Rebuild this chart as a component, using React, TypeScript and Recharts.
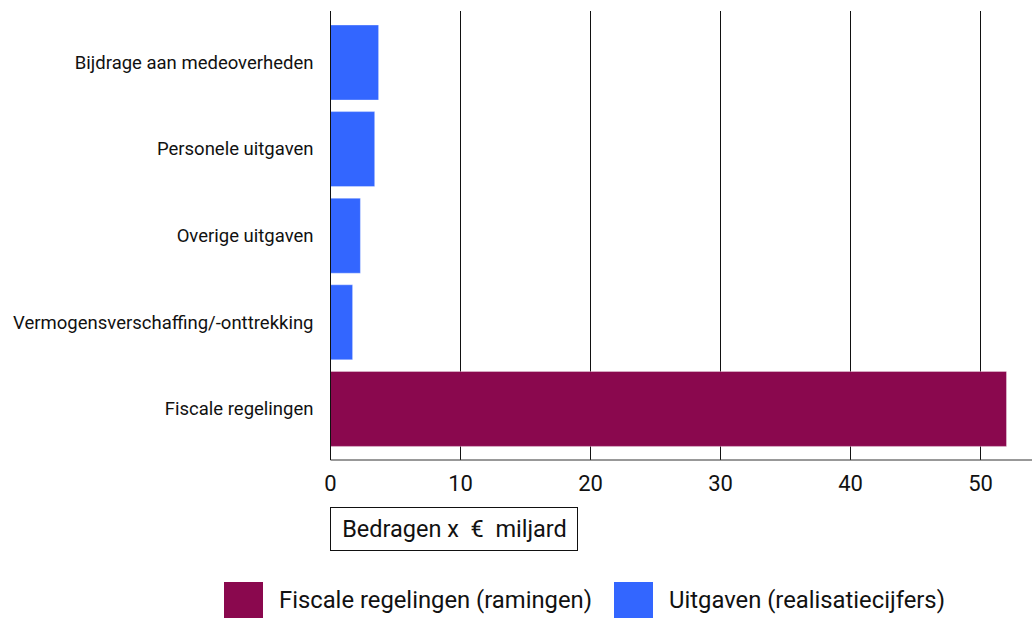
import React from "react";
import { BarChart, Bar, XAxis, YAxis, CartesianGrid, Legend } from "recharts";

const categories = [
  "Bijdrage aan medeoverheden",
  "Personele uitgaven",
  "Overige uitgaven",
  "Vermogensverschaffing/-onttrekking",
  "Fiscale regelingen",
];
const fiscaleValues: (number | null)[] = [null, null, null, null, 52.0];
const uitgavenValues: (number | null)[] = [3.7, 3.4, 2.3, 1.7, null];
const xTicks = [0, 10, 20, 30, 40, 50];
const seriesNames = ["Fiscale regelingen (ramingen)", "Uitgaven (realisatiecijfers)"];
const axisTitle = "Bedragen x \u00a0€\u00a0 miljard";

const PURPLE = "#8A084E";
const BLUE = "#3366FF";
const FONT = "Roboto, 'Noto Sans', sans-serif";

const data = categories.map((c, i) => ({
  name: c,
  fiscale: fiscaleValues[i],
  uitgaven: uitgavenValues[i],
}));

const AxisTitle = (props: any) => {
  const vb = props.viewBox || {};
  const x = vb.x;
  const y = vb.y + 47;
  return (
    <g>
      <rect x={x} y={y + 0.5} width={247} height={43} fill="#fff" stroke="#111" strokeWidth={1} />
      <text x={x + 124} y={y + 30} textAnchor="middle" fontSize={23.5} fill="#111" fontFamily={FONT}>
        {axisTitle}
      </text>
    </g>
  );
};

const LegendContent = () => {
  const items = [
    { label: seriesNames[0], color: PURPLE },
    { label: seriesNames[1], color: BLUE },
  ];
  return (
    <div style={{ display: "flex", alignItems: "center", paddingLeft: 224, fontFamily: FONT }}>
      {items.map((it, i) => (
        <div key={i} style={{ display: "flex", alignItems: "center", marginRight: 22 }}>
          <div style={{ width: 39, height: 36, background: it.color, marginRight: 16 }} />
          <span style={{ fontSize: 23.8, color: "#111", whiteSpace: "nowrap" }}>{it.label}</span>
        </div>
      ))}
    </div>
  );
};

export default function App() {
  return (
    <div style={{ position: "absolute", left: 0, top: 0, width: 1032, height: 618, background: "#fff" }}>
      <BarChart
        width={1032}
        height={618}
        data={data}
        layout="vertical"
        margin={{ top: 11, right: -0.5, bottom: 0, left: 0.5 }}
        barCategoryGap={6}
      >
        <CartesianGrid vertical={true} horizontal={false} stroke="#111" strokeWidth={1} />
        <XAxis
          type="number"
          domain={[0, 54]}
          ticks={xTicks}
          allowDataOverflow
          height={158}
          tickLine={false}
          axisLine={{ stroke: "#333" }}
          tick={{ fontSize: 22, fill: "#111", fontFamily: FONT }}
          tickMargin={9}
          label={<AxisTitle />}
        />
        <YAxis
          type="category"
          dataKey="name"
          width={330}
          tickLine={false}
          axisLine={{ stroke: "#111" }}
          tick={{ fontSize: 18.5, fill: "#111", fontFamily: FONT }}
          tickMargin={11}
          padding={{ top: 8, bottom: 8 }}
        />
        <Legend
          layout="horizontal"
          verticalAlign="middle"
          align="center"
          wrapperStyle={{ top: 582, left: 0, width: 1032, height: 36 }}
          content={<LegendContent />}
        />
        <Bar dataKey="fiscale" name={seriesNames[0]} stackId="a" fill={PURPLE} stroke="rgba(255,255,255,0.35)" isAnimationActive={false} />
        <Bar dataKey="uitgaven" name={seriesNames[1]} stackId="a" fill={BLUE} stroke="rgba(255,255,255,0.35)" isAnimationActive={false} />
      </BarChart>
    </div>
  );
}
